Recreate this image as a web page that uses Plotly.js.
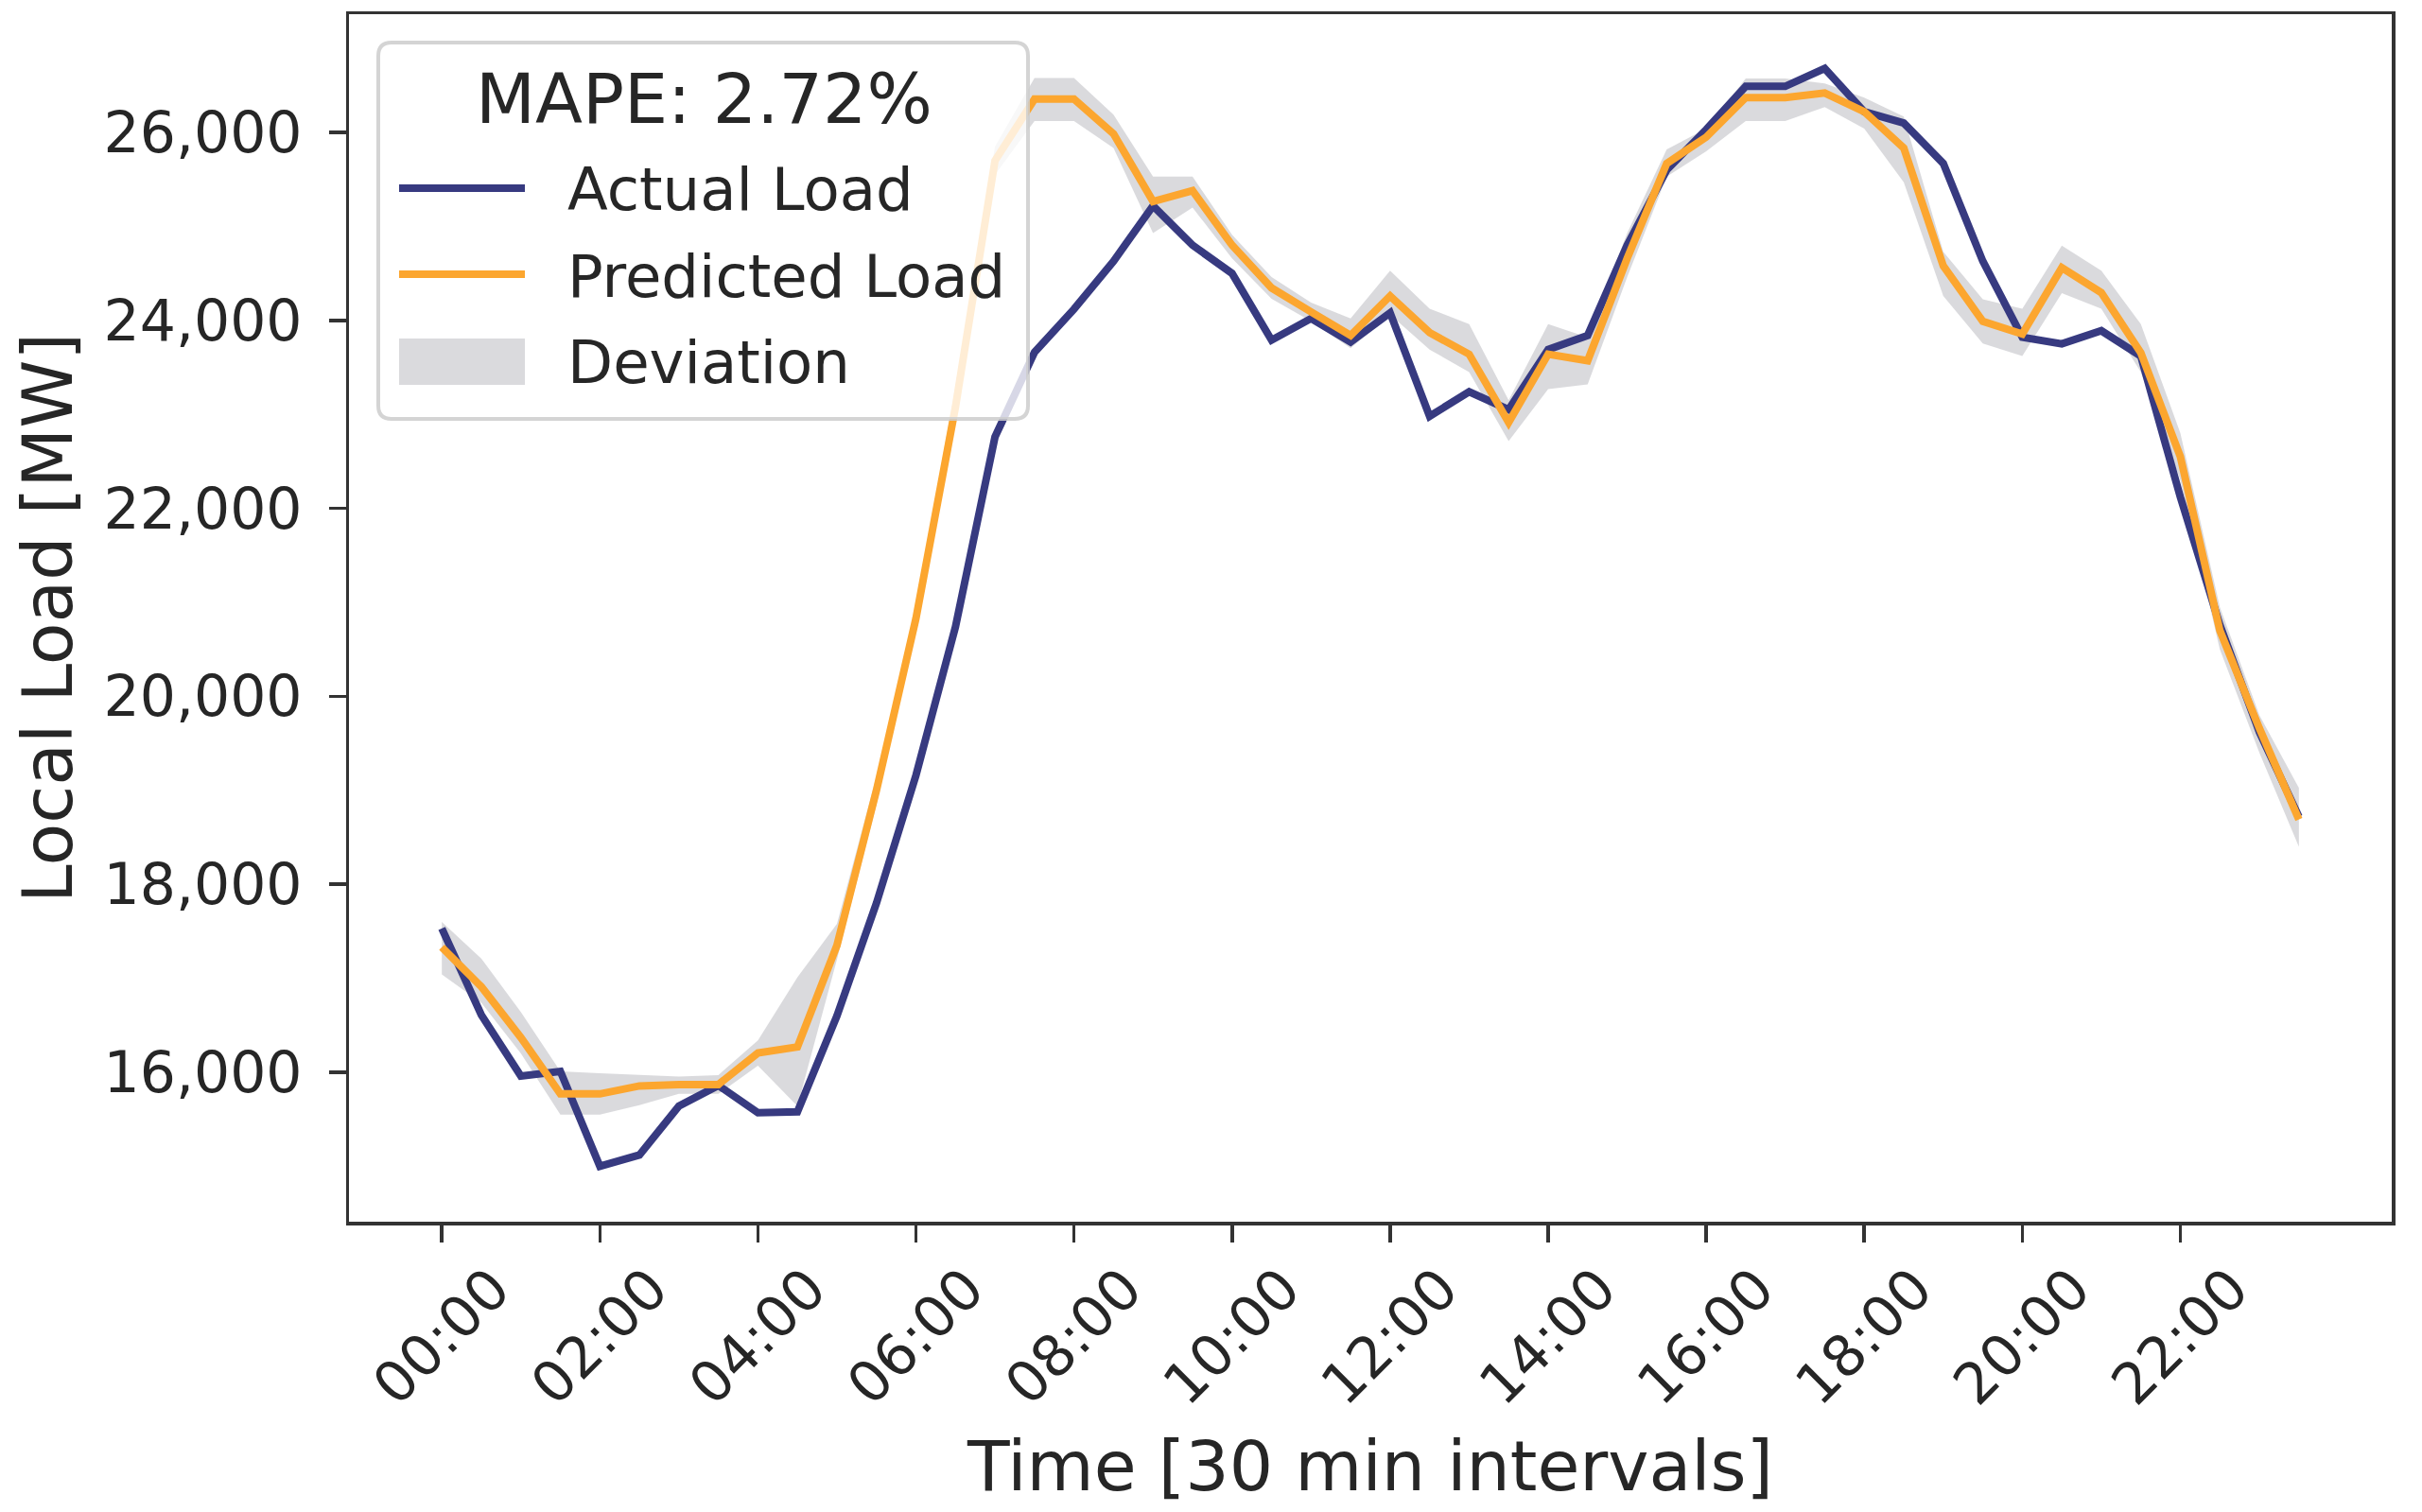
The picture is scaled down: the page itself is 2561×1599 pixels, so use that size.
<!DOCTYPE html>
<html>
<head>
<meta charset="utf-8">
<script src="https://cdn.plot.ly/plotly-3.0.1.min.js"></script>
<style>
html,body{margin:0;padding:0;background:#ffffff;}
#chart{width:2561px;height:1599px;}
</style>
</head>
<body>
<div id="chart"></div>
<script>
// ---- data ----
const times = ['00:00','00:30','01:00','01:30','02:00','02:30','03:00','03:30',
  '04:00','04:30','05:00','05:30','06:00','06:30','07:00','07:30',
  '08:00','08:30','09:00','09:30','10:00','10:30','11:00','11:30',
  '12:00','12:30','13:00','13:30','14:00','14:30','15:00','15:30',
  '16:00','16:30','17:00','17:30','18:00','18:30','19:00','19:30',
  '20:00','20:30','21:00','21:30','22:00','22:30','23:00','23:30'];

const actualLoad = [17530, 16610, 15960, 16010, 15000, 15120, 15640, 15860,
  15570, 15580, 16600, 17800, 19160, 20740, 22760, 23660,
  24120, 24630, 25220, 24800, 24500, 23790, 24020, 23770,
  24080, 22980, 23240, 23050, 23690, 23840, 24800, 25600,
  26030, 26490, 26490, 26680, 26220, 26100, 25670, 24630,
  23820, 23750, 23890, 23620, 22120, 20760, 19620, 18720];

const predictedLoad = [17330, 16910, 16370, 15770, 15770, 15855, 15870, 15870,
  16205, 16270, 17350, 19000, 20830, 23080, 25700, 26355,
  26355, 25985, 25265, 25380, 24800, 24345, 24090, 23840,
  24260, 23870, 23640, 22915, 23640, 23570, 24660, 25670,
  25950, 26370, 26370, 26420, 26220, 25835, 24580, 23990,
  23855, 24560, 24295, 23655, 22550, 20700, 19660, 18690];

const deviationUpper = [17600, 17210, 16640, 16010, 15990, 15970, 15955, 15970,
  16340, 17010, 17580, 19150, 20950, 23300, 25850, 26580,
  26580, 26190, 25530, 25530, 24910, 24460, 24190, 24020,
  24530, 24125, 23960, 23150, 23960, 23820, 24930, 25820,
  26040, 26575, 26575, 26520, 26370, 26170, 24730, 24225,
  24125, 24795, 24530, 23960, 22800, 20950, 19800, 19025];

const deviationLower = [17040, 16740, 16200, 15550, 15550, 15650, 15770, 15770,
  16070, 15640, 17200, 18850, 20700, 22900, 25550, 26120,
  26120, 25835, 24930, 25200, 24660, 24230, 23990, 23705,
  24060, 23690, 23450, 22715, 23270, 23320, 24460, 25530,
  25800, 26120, 26120, 26270, 26040, 25470, 24260, 23755,
  23620, 24290, 24125, 23450, 22300, 20500, 19400, 18400];

const tickLabels = ['00:00','02:00','04:00','06:00','08:00','10:00',
  '12:00','14:00','16:00','18:00','20:00','22:00'];
const yTicks = [16000, 18000, 20000, 22000, 24000, 26000];

const legendTitle = 'MAPE: 2.72%';
const seriesNames = ['Actual Load', 'Predicted Load', 'Deviation'];

// ---- styles ----
const FONT = 'DejaVu Sans, Liberation Sans, sans-serif';
const TXT = '#262626';
const AX = '#333333';
const NAVY = '#373a80';
const ORANGE = '#fca62f';
const BAND = 'rgba(211,211,215,0.85)';
const LW = 8;

const W = 2561, H = 1599;
const M = {l: 369, r: 32, t: 15, b: 307};
const PW = W - M.l - M.r, PH = H - M.t - M.b;
const px = v => (v - M.l) / PW;
const py = v => 1 - (v - M.t) / PH;

const traces = [
  {x: times, y: deviationLower, type: 'scatter', mode: 'lines',
   line: {width: 0, color: 'rgba(0,0,0,0)'}, showlegend: false, hoverinfo: 'skip'},
  {x: times, y: deviationUpper, type: 'scatter', mode: 'lines', fill: 'tonexty',
   fillcolor: BAND, line: {width: 0, color: 'rgba(0,0,0,0)'}, name: seriesNames[2], showlegend: false},
  {x: times, y: actualLoad, type: 'scatter', mode: 'lines', name: seriesNames[0],
   line: {color: NAVY, width: LW}, showlegend: false},
  {x: times, y: predictedLoad, type: 'scatter', mode: 'lines', name: seriesNames[1],
   line: {color: ORANGE, width: LW}, showlegend: false}
];

// legend box (drawn as decoration in paper coords)
const bx0 = 400, bx1 = 1087, by0 = 45, by1 = 443, rad = 14;
function roundRect(x0, y0, x1, y1, r) {
  const X = v => px(v), Y = v => py(v);
  return 'M' + X(x0 + r) + ',' + Y(y0) +
    ' L' + X(x1 - r) + ',' + Y(y0) +
    ' Q' + X(x1) + ',' + Y(y0) + ' ' + X(x1) + ',' + Y(y0 + r) +
    ' L' + X(x1) + ',' + Y(y1 - r) +
    ' Q' + X(x1) + ',' + Y(y1) + ' ' + X(x1 - r) + ',' + Y(y1) +
    ' L' + X(x0 + r) + ',' + Y(y1) +
    ' Q' + X(x0) + ',' + Y(y1) + ' ' + X(x0) + ',' + Y(y1 - r) +
    ' L' + X(x0) + ',' + Y(y0 + r) +
    ' Q' + X(x0) + ',' + Y(y0) + ' ' + X(x0 + r) + ',' + Y(y0) + ' Z';
}

const shapes = [
  {type: 'path', xref: 'paper', yref: 'paper', layer: 'above',
   path: roundRect(bx0, by0, bx1, by1, rad),
   fillcolor: 'rgba(255,255,255,0.8)', line: {color: 'rgba(204,204,204,0.85)', width: 4}},
  {type: 'line', xref: 'paper', yref: 'paper', layer: 'above',
   x0: px(422), x1: px(555), y0: py(199), y1: py(199), line: {color: NAVY, width: LW}},
  {type: 'line', xref: 'paper', yref: 'paper', layer: 'above',
   x0: px(422), x1: px(555), y0: py(290), y1: py(290), line: {color: ORANGE, width: LW}},
  {type: 'rect', xref: 'paper', yref: 'paper', layer: 'above',
   x0: px(422), x1: px(555), y0: py(407), y1: py(358), fillcolor: BAND, line: {width: 0}}
];

const annotations = [
  {xref: 'paper', yref: 'paper', x: px(744), y: py(104), xanchor: 'center', yanchor: 'middle',
   text: legendTitle, showarrow: false, font: {family: FONT, size: 73, color: TXT}},
  {xref: 'paper', yref: 'paper', x: px(598), y: py(200), xanchor: 'left', yanchor: 'middle',
   text: seriesNames[0], showarrow: false, font: {family: FONT, size: 62.5, color: TXT}},
  {xref: 'paper', yref: 'paper', x: px(598), y: py(292), xanchor: 'left', yanchor: 'middle',
   text: seriesNames[1], showarrow: false, font: {family: FONT, size: 62.5, color: TXT}},
  {xref: 'paper', yref: 'paper', x: px(598), y: py(383), xanchor: 'left', yanchor: 'middle',
   text: seriesNames[2], showarrow: false, font: {family: FONT, size: 62.5, color: TXT}}
];

const layout = {
  width: W, height: H,
  margin: M,
  paper_bgcolor: '#ffffff', plot_bgcolor: '#ffffff',
  font: {family: FONT, color: TXT},
  showlegend: false,
  xaxis: {
    type: 'category', range: [-2.35, 49.35],
    tickmode: 'array', tickvals: tickLabels, ticktext: tickLabels,
    tickangle: -45, ticks: 'outside', ticklen: 18, tickwidth: 3.5, tickcolor: AX,
    ticklabelshift: 54, ticklabelstandoff: -10,
    showline: true, linewidth: 3.5, linecolor: AX, mirror: true,
    showgrid: false, zeroline: false,
    tickfont: {family: FONT, size: 60, color: TXT},
    title: {text: 'Time [30 min intervals]', font: {family: FONT, size: 73, color: TXT}, standoff: 28}
  },
  yaxis: {
    range: [14410, 27258],
    tickmode: 'array', tickvals: yTicks, tickformat: ',d',
    ticks: 'outside', ticklen: 18, tickwidth: 3.5, tickcolor: AX,
    ticklabelstandoff: 16,
    showline: true, linewidth: 3.5, linecolor: AX, mirror: true,
    showgrid: false, zeroline: false,
    tickfont: {family: FONT, size: 60, color: TXT},
    title: {text: 'Local Load [MW]', font: {family: FONT, size: 73, color: TXT}, standoff: 10}
  },
  shapes: shapes,
  annotations: annotations
};

Plotly.newPlot('chart', traces, layout, {staticPlot: true, displayModeBar: false});
</script>
</body>
</html>
